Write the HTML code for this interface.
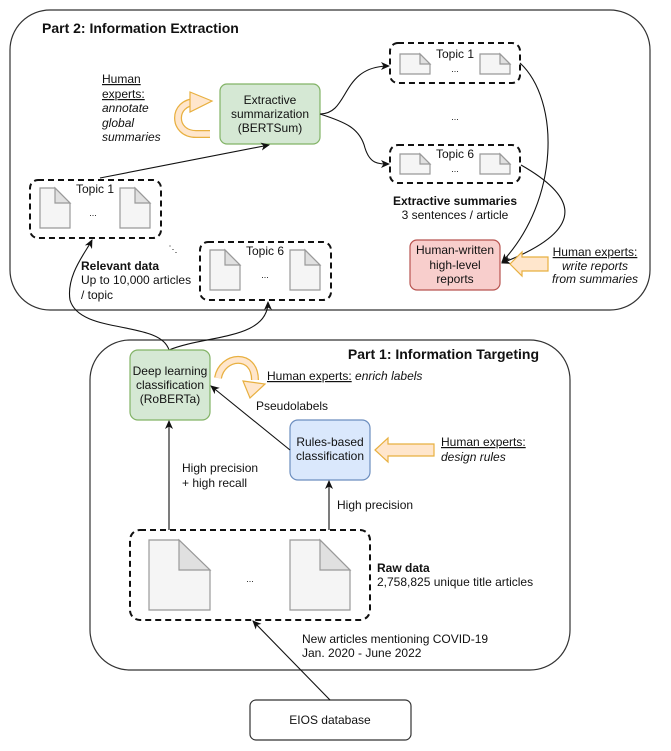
<!DOCTYPE html>
<html><head><meta charset="utf-8"><style>
html,body{margin:0;padding:0;background:#fff;}
svg{display:block;}
text{font-family:"Liberation Sans",Arial,sans-serif;font-size:12px;fill:#111;}
.b{font-weight:bold;}
.i{font-style:italic;}
.c{text-anchor:middle;}
.doc{fill:#f5f5f5;stroke:#999;stroke-width:1.2;}
.fold{fill:#e0e0e0;stroke:#999;stroke-width:1.2;}
.dash{fill:none;stroke:#111;stroke-width:2;stroke-dasharray:6 4;}
.ln{fill:none;stroke:#111;stroke-width:1.1;}
</style></head><body>
<svg width="671" height="751" viewBox="0 0 671 751" xmlns="http://www.w3.org/2000/svg">
<defs>
<marker id="ah" markerWidth="10" markerHeight="10" refX="8" refY="5" orient="auto" markerUnits="userSpaceOnUse">
<path d="M0,1 L9,5 L0,9 L2.5,5 Z" fill="#111"/>
</marker>
</defs>

<!-- Part 2 -->
<rect x="10" y="10" width="640" height="300" rx="40" fill="none" stroke="#333" stroke-width="1.2"/>
<text x="42" y="33" class="b" style="font-size:14px">Part 2: Information Extraction</text>

<!-- Human experts annotate -->
<text x="102" y="83" text-decoration="underline">Human</text>
<text x="102" y="98" text-decoration="underline">experts:</text>
<text x="102" y="112" class="i">annotate</text>
<text x="102" y="127" class="i">global</text>
<text x="102" y="141" class="i">summaries</text>
<path d="M210,134 L196,134 C172,134 172,102 196,102 L198,102" fill="none" stroke="#e8b040" stroke-width="8"/>
<path d="M210,134 L196,134 C172,134 172,102 196,102 L199,102" fill="none" stroke="#ffe6cc" stroke-width="5.5"/>
<polygon points="190,92 212,101 190,112" fill="#ffe6cc" stroke="#e8b040" stroke-width="1.2"/>

<!-- Extractive summarization -->
<rect x="220" y="84" width="100" height="60" rx="7" fill="#d5e8d4" stroke="#82b366" stroke-width="1.2"/>
<text x="270" y="104" class="c">Extractive</text>
<text x="270" y="118" class="c">summarization</text>
<text x="270" y="132" class="c">(BERTSum)</text>

<!-- Topic 1 left -->
<rect x="30" y="180" width="131" height="58" rx="8" class="dash"/>
<path class="doc" d="M40,188 h15 l15,15 v25 h-30 z"/><path class="fold" d="M55,188 v15 h15 z"/>
<path class="doc" d="M120,188 h15 l15,15 v25 h-30 z"/><path class="fold" d="M135,188 v15 h15 z"/>
<text x="95" y="193" class="c">Topic 1</text>
<text x="93" y="216" class="c" style="font-size:9px">...</text>
<text x="173" y="252" class="c" style="font-size:9px">⋱</text>

<!-- Topic 6 bottom -->
<rect x="200" y="242" width="131" height="58" rx="8" class="dash"/>
<path class="doc" d="M210,250 h15 l15,15 v25 h-30 z"/><path class="fold" d="M225,250 v15 h15 z"/>
<path class="doc" d="M290,250 h15 l15,15 v25 h-30 z"/><path class="fold" d="M305,250 v15 h15 z"/>
<text x="265" y="255" class="c">Topic 6</text>
<text x="265" y="278" class="c" style="font-size:9px">...</text>

<text x="81" y="270" class="b">Relevant data</text>
<text x="81" y="284">Up to 10,000 articles</text>
<text x="81" y="299">/ topic</text>

<!-- arrow topic1 -> summarization -->
<path class="ln" d="M100,178 L269,145" marker-end="url(#ah)"/>

<!-- Topic 1 right -->
<rect x="390" y="43" width="130" height="40" rx="8" class="dash"/>
<path class="doc" d="M400,54 h20 l10,10 v10 h-30 z"/><path class="fold" d="M420,54 v10 h10 z"/>
<path class="doc" d="M480,54 h20 l10,10 v10 h-30 z"/><path class="fold" d="M500,54 v10 h10 z"/>
<text x="455" y="58" class="c">Topic 1</text>
<text x="455" y="72" class="c" style="font-size:9px">...</text>
<text x="455" y="120" class="c" style="font-size:9px">...</text>

<!-- Topic 6 right -->
<rect x="390" y="145" width="130" height="38" rx="8" class="dash"/>
<path class="doc" d="M400,154 h20 l10,10 v10 h-30 z"/><path class="fold" d="M420,154 v10 h10 z"/>
<path class="doc" d="M480,154 h20 l10,10 v10 h-30 z"/><path class="fold" d="M500,154 v10 h10 z"/>
<text x="455" y="158" class="c">Topic 6</text>
<text x="455" y="172" class="c" style="font-size:9px">...</text>

<text x="455" y="205" class="c b">Extractive summaries</text>
<text x="455" y="219" class="c">3 sentences / article</text>

<path class="ln" d="M320,114 C350,114 340,66 389,66" marker-end="url(#ah)"/>
<path class="ln" d="M320,114 C345,122 360,128 365,148 C370,164 378,164 389,164" marker-end="url(#ah)"/>

<!-- Human-written -->
<rect x="410" y="240" width="90" height="50" rx="7" fill="#f8cecc" stroke="#b85450" stroke-width="1.2"/>
<text x="455" y="254" class="c">Human-written</text>
<text x="455" y="269" class="c">high-level</text>
<text x="455" y="283" class="c">reports</text>
<path class="ln" d="M520,63 C560,100 560,200 502,262" marker-end="url(#ah)"/>
<path class="ln" d="M521,165 C565,190 600,225 502,263" marker-end="url(#ah)"/>
<polygon points="510,264 522,252 522,257 548,257 548,271 522,271 522,276" fill="#ffe6cc" stroke="#e8b040" stroke-width="1.2"/>
<text x="595" y="256" class="c" text-decoration="underline">Human experts:</text>
<text x="595" y="270" class="c i">write reports</text>
<text x="595" y="283" class="c i">from summaries</text>

<!-- Part 1 -->
<rect x="90" y="340" width="480" height="330" rx="40" fill="none" stroke="#333" stroke-width="1.2"/>
<text x="539" y="359" class="b" text-anchor="end" style="font-size:14px">Part 1: Information Targeting</text>

<!-- connectors from DL to topics -->
<path class="ln" d="M169,350 C160,320 80,335 70,300 C66,275 86,252 92,240" marker-end="url(#ah)"/>
<path class="ln" d="M169,350 C205,335 268,340 268,302" marker-end="url(#ah)"/>

<rect x="130" y="350" width="80" height="70" rx="8" fill="#d5e8d4" stroke="#82b366" stroke-width="1.2"/>
<text x="170" y="375" class="c">Deep learning</text>
<text x="170" y="389" class="c">classification</text>
<text x="170" y="403" class="c">(RoBERTa)</text>

<path d="M218,378 C222,355 255,352 255,380" fill="none" stroke="#e8b040" stroke-width="8"/>
<path d="M218,378 C222,355 255,352 255,380" fill="none" stroke="#ffe6cc" stroke-width="5.5"/>
<polygon points="243,381 265,384 250,398" fill="#ffe6cc" stroke="#e8b040" stroke-width="1.2"/>
<text x="267" y="380"><tspan text-decoration="underline">Human experts:</tspan> <tspan class="i">enrich labels</tspan></text>
<text x="256" y="410">Pseudolabels</text>

<rect x="290" y="420" width="80" height="60" rx="8" fill="#dae8fc" stroke="#6c8ebf" stroke-width="1.2"/>
<text x="330" y="446" class="c">Rules-based</text>
<text x="330" y="460" class="c">classification</text>
<path class="ln" d="M290,450 L211,386" marker-end="url(#ah)"/>
<polygon points="375,450 388,438 388,444 434,444 434,456 388,456 388,462" fill="#ffe6cc" stroke="#e8b040" stroke-width="1.2"/>
<text x="441" y="446" text-decoration="underline">Human experts:</text>
<text x="441" y="461" class="i">design rules</text>

<path class="ln" d="M169,530 L169,421" marker-end="url(#ah)"/>
<path class="ln" d="M329,530 L329,481" marker-end="url(#ah)"/>
<text x="182" y="472">High precision</text>
<text x="182" y="487">+ high recall</text>
<text x="337" y="509">High precision</text>

<!-- Raw data -->
<rect x="130" y="530" width="240" height="90" rx="10" class="dash"/>
<path class="doc" d="M149,540 h30 l31,30 v40 h-61 z"/><path class="fold" d="M179,540 v30 h31 z"/>
<path class="doc" d="M290,540 h30 l30,30 v40 h-60 z"/><path class="fold" d="M320,540 v30 h30 z"/>
<text x="250" y="582" class="c" style="font-size:9px">...</text>
<text x="377" y="572" class="b">Raw data</text>
<text x="377" y="586">2,758,825 unique title articles</text>

<text x="302" y="643">New articles mentioning COVID-19</text>
<text x="302" y="657">Jan. 2020 - June 2022</text>

<rect x="250" y="700" width="161" height="40" rx="6" fill="#fff" stroke="#333" stroke-width="1.2"/>
<text x="330" y="724" class="c">EIOS database</text>
<path class="ln" d="M330,700 L253,621" marker-end="url(#ah)"/>
</svg>
</body></html>
